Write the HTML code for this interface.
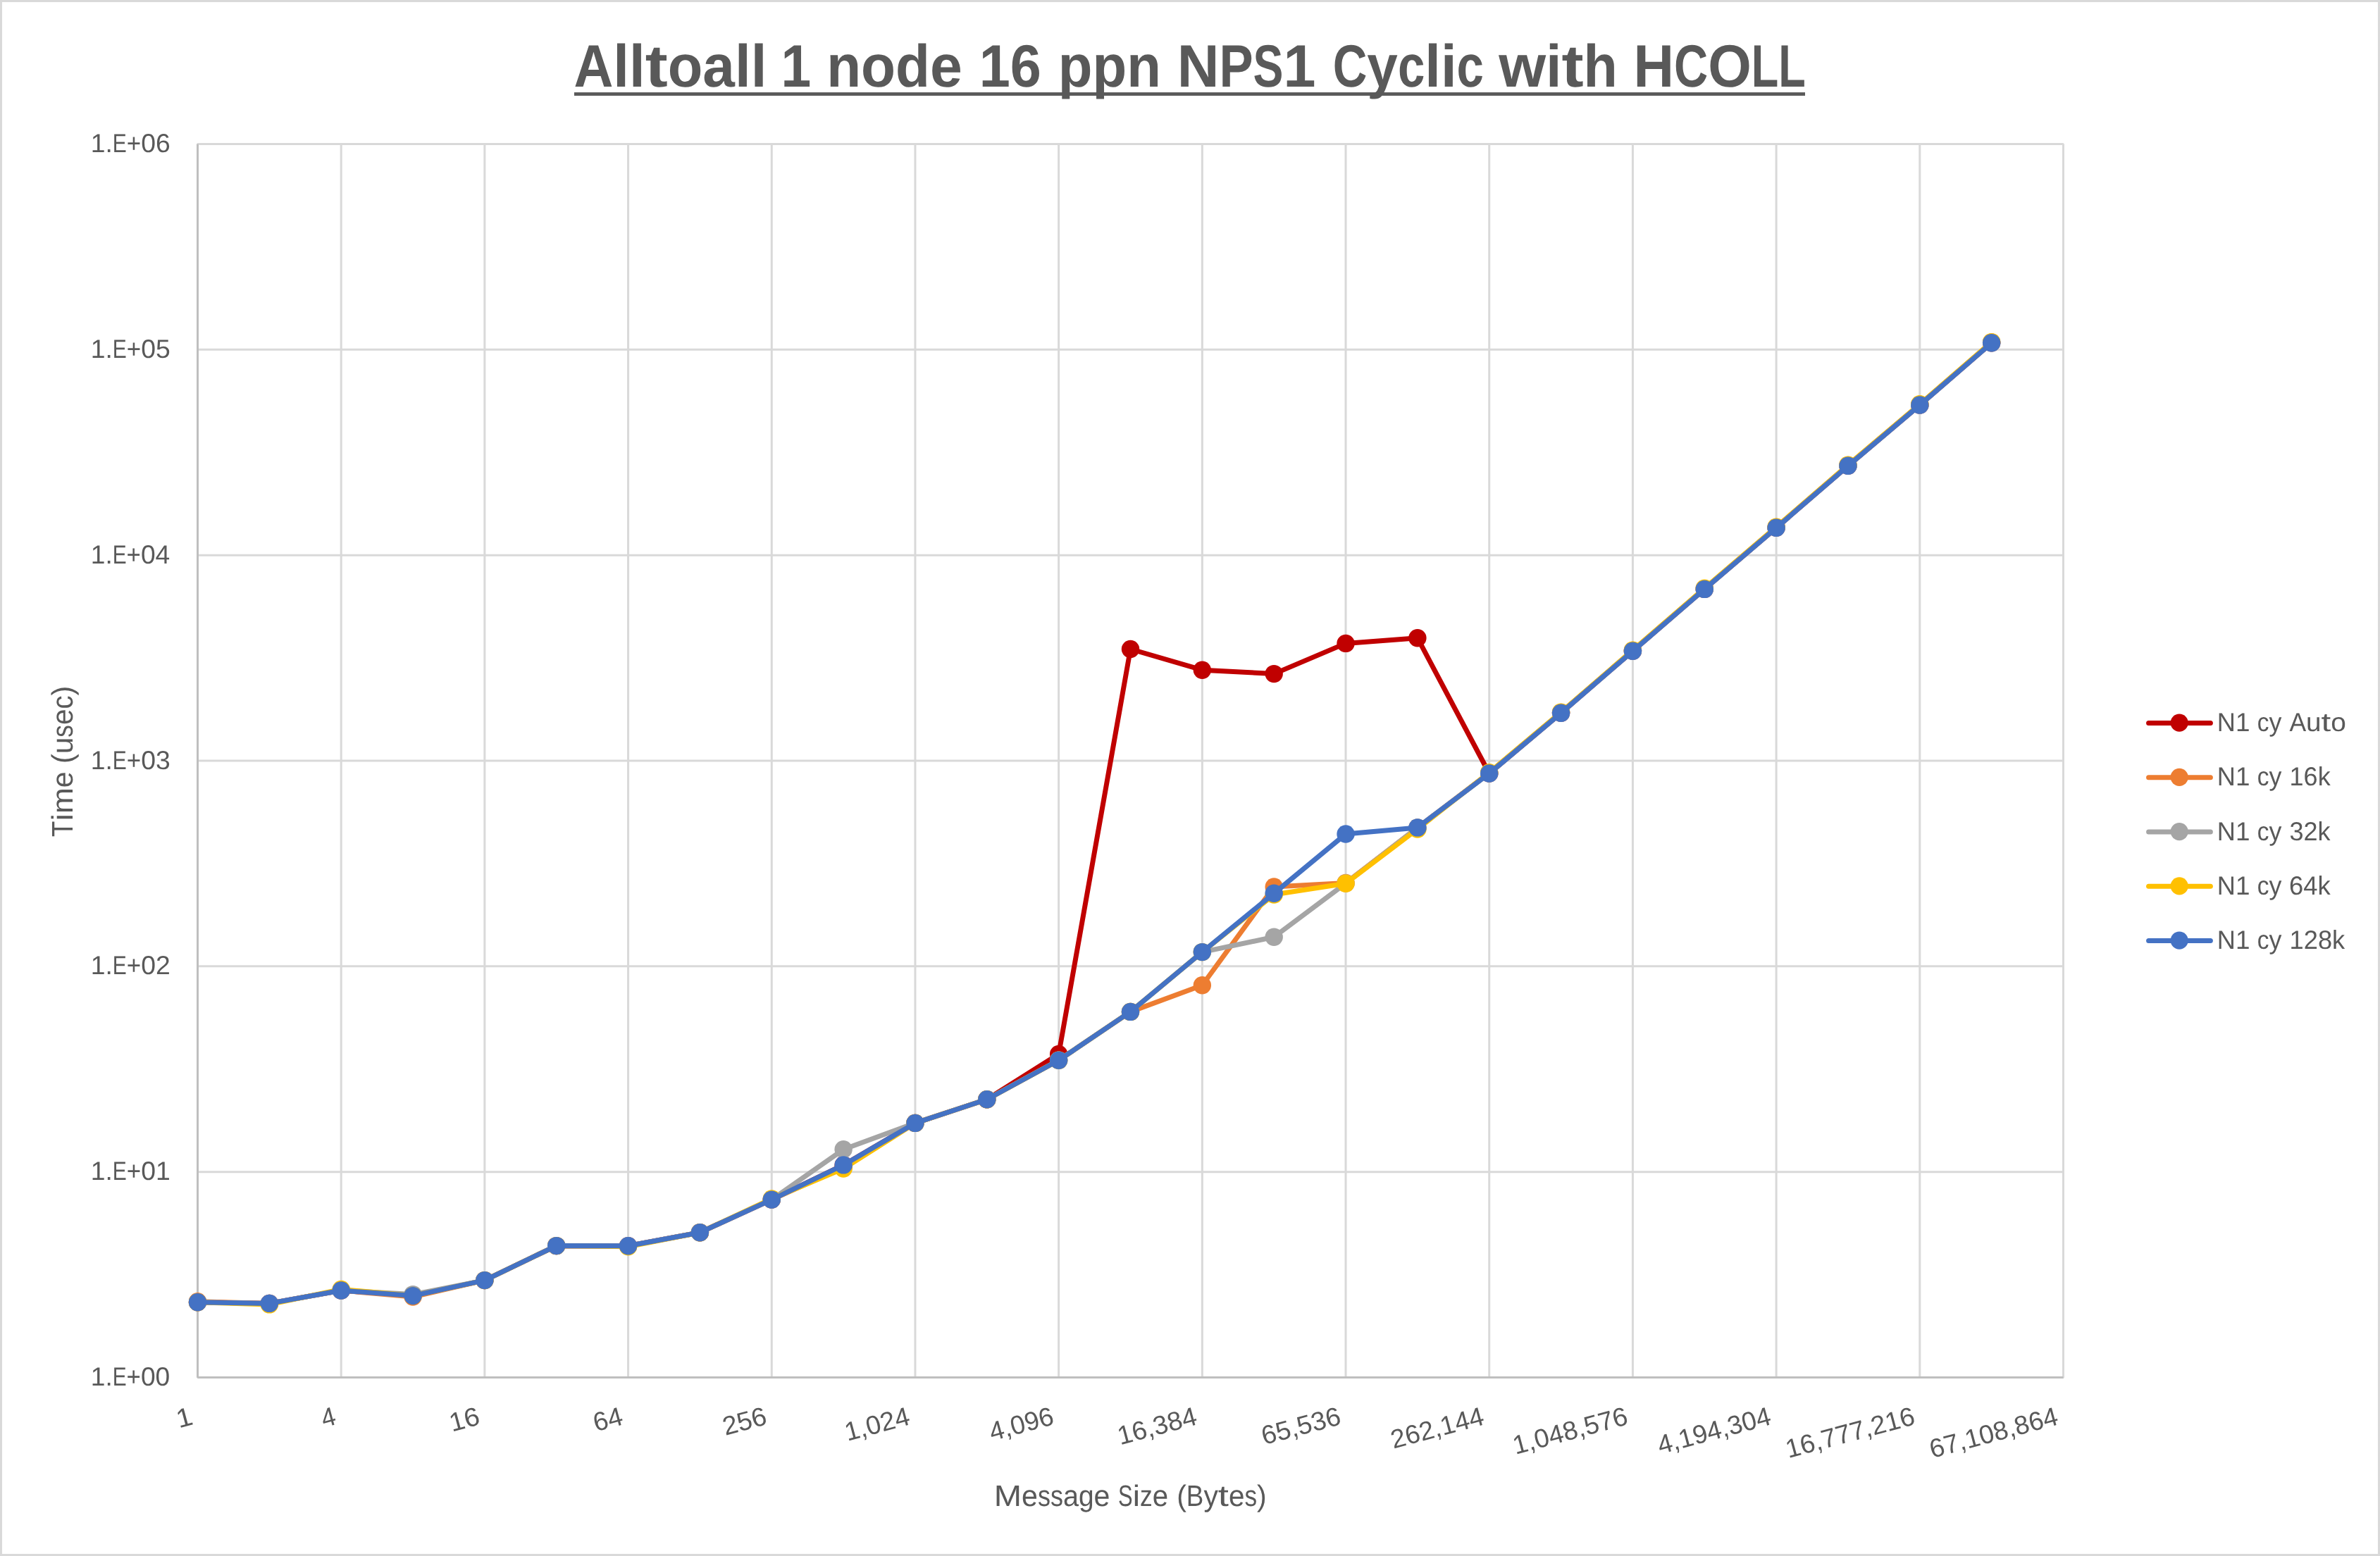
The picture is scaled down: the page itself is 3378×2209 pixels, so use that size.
<!DOCTYPE html>
<html><head><meta charset="utf-8"><title>Alltoall 1 node 16 ppn NPS1 Cyclic with HCOLL</title>
<style>html,body{margin:0;padding:0;background:#fff;}body{width:3378px;height:2209px;overflow:hidden;font-family:"Liberation Sans",sans-serif;}</style></head>
<body>
<svg width="3378" height="2209" viewBox="0 0 3378 2209" style="display:block">
<rect x="0" y="0" width="3378" height="2209" fill="#fff"/>
<rect x="1.5" y="1.5" width="3375" height="2206" fill="none" stroke="#D9D9D9" stroke-width="3"/>
<path d="M280.50 204.50H2928.50M280.50 496.33H2928.50M280.50 788.17H2928.50M280.50 1080.00H2928.50M280.50 1371.83H2928.50M280.50 1663.67H2928.50M484.19 204.50V1955.50M687.88 204.50V1955.50M891.58 204.50V1955.50M1095.27 204.50V1955.50M1298.96 204.50V1955.50M1502.65 204.50V1955.50M1706.35 204.50V1955.50M1910.04 204.50V1955.50M2113.73 204.50V1955.50M2317.42 204.50V1955.50M2521.12 204.50V1955.50M2724.81 204.50V1955.50M2928.50 204.50V1955.50" stroke="#D9D9D9" stroke-width="3" fill="none"/>
<path d="M280.50 204.50V1955.50M280.50 1955.50H2928.50" stroke="#BFBFBF" stroke-width="3" fill="none"/>
<path d="M280.50 204.50L279.00 204.50L280.50 203.00Z" fill="#C8C8C8"/><path d="M2928.50 204.50L2930.00 204.50L2928.50 203.00Z" fill="#D9D9D9"/><path d="M280.50 1955.50L279.00 1955.50L280.50 1957.00Z" fill="#BFBFBF"/><path d="M2928.50 1955.50L2930.00 1955.50L2928.50 1957.00Z" fill="#C8C8C8"/>
<rect x="280.50" y="203.00" width="1.5" height="1.5" fill="#D9D9D9"/><rect x="279.00" y="204.50" width="1.5" height="1.5" fill="#BFBFBF"/>
<rect x="2927.00" y="203.00" width="1.5" height="1.5" fill="#D9D9D9"/><rect x="2928.50" y="204.50" width="1.5" height="1.5" fill="#D9D9D9"/>
<rect x="279.00" y="1954.00" width="1.5" height="1.5" fill="#BFBFBF"/><rect x="280.50" y="1955.50" width="1.5" height="1.5" fill="#BFBFBF"/>
<rect x="2928.50" y="1954.00" width="1.5" height="1.5" fill="#D9D9D9"/><rect x="2927.00" y="1955.50" width="1.5" height="1.5" fill="#BFBFBF"/>
<polyline points="280.50,1848.70 382.35,1850.40 484.19,1832.00 586.04,1839.60 687.88,1817.60 789.73,1768.60 891.58,1768.70 993.42,1749.70 1095.27,1703.10 1197.12,1653.90 1298.96,1594.40 1400.81,1560.70 1502.65,1496.50 1604.50,921.50 1706.35,951.20 1808.19,956.60 1910.04,913.40 2011.88,905.70 2113.73,1098.00 2215.58,1012.30 2317.42,924.30 2419.27,836.40 2521.12,749.30 2622.96,661.30 2724.81,575.00 2826.65,486.80" fill="none" stroke="#C00000" stroke-width="7" stroke-linejoin="round" stroke-linecap="round"/>
<g fill="#C00000"><circle cx="280.50" cy="1848.70" r="12.7"/><circle cx="382.35" cy="1850.40" r="12.7"/><circle cx="484.19" cy="1832.00" r="12.7"/><circle cx="586.04" cy="1839.60" r="12.7"/><circle cx="687.88" cy="1817.60" r="12.7"/><circle cx="789.73" cy="1768.60" r="12.7"/><circle cx="891.58" cy="1768.70" r="12.7"/><circle cx="993.42" cy="1749.70" r="12.7"/><circle cx="1095.27" cy="1703.10" r="12.7"/><circle cx="1197.12" cy="1653.90" r="12.7"/><circle cx="1298.96" cy="1594.40" r="12.7"/><circle cx="1400.81" cy="1560.70" r="12.7"/><circle cx="1502.65" cy="1496.50" r="12.7"/><circle cx="1604.50" cy="921.50" r="12.7"/><circle cx="1706.35" cy="951.20" r="12.7"/><circle cx="1808.19" cy="956.60" r="12.7"/><circle cx="1910.04" cy="913.40" r="12.7"/><circle cx="2011.88" cy="905.70" r="12.7"/><circle cx="2113.73" cy="1098.00" r="12.7"/><circle cx="2215.58" cy="1012.30" r="12.7"/><circle cx="2317.42" cy="924.30" r="12.7"/><circle cx="2419.27" cy="836.40" r="12.7"/><circle cx="2521.12" cy="749.30" r="12.7"/><circle cx="2622.96" cy="661.30" r="12.7"/><circle cx="2724.81" cy="575.00" r="12.7"/><circle cx="2826.65" cy="486.80" r="12.7"/></g>
<polyline points="280.50,1847.70 382.35,1850.40 484.19,1832.00 586.04,1841.10 687.88,1817.60 789.73,1768.60 891.58,1768.70 993.42,1749.70 1095.27,1703.10 1197.12,1656.90 1298.96,1594.40 1400.81,1560.70 1502.65,1505.20 1604.50,1436.40 1706.35,1398.80 1808.19,1259.00 1910.04,1253.50 2011.88,1174.90 2113.73,1097.20 2215.58,1011.50 2317.42,923.50 2419.27,835.60 2521.12,748.50 2622.96,660.50 2724.81,574.20 2826.65,486.00" fill="none" stroke="#ED7D31" stroke-width="7" stroke-linejoin="round" stroke-linecap="round"/>
<g fill="#ED7D31"><circle cx="280.50" cy="1847.70" r="12.7"/><circle cx="382.35" cy="1850.40" r="12.7"/><circle cx="484.19" cy="1832.00" r="12.7"/><circle cx="586.04" cy="1841.10" r="12.7"/><circle cx="687.88" cy="1817.60" r="12.7"/><circle cx="789.73" cy="1768.60" r="12.7"/><circle cx="891.58" cy="1768.70" r="12.7"/><circle cx="993.42" cy="1749.70" r="12.7"/><circle cx="1095.27" cy="1703.10" r="12.7"/><circle cx="1197.12" cy="1656.90" r="12.7"/><circle cx="1298.96" cy="1594.40" r="12.7"/><circle cx="1400.81" cy="1560.70" r="12.7"/><circle cx="1502.65" cy="1505.20" r="12.7"/><circle cx="1604.50" cy="1436.40" r="12.7"/><circle cx="1706.35" cy="1398.80" r="12.7"/><circle cx="1808.19" cy="1259.00" r="12.7"/><circle cx="1910.04" cy="1253.50" r="12.7"/><circle cx="2011.88" cy="1174.90" r="12.7"/><circle cx="2113.73" cy="1097.20" r="12.7"/><circle cx="2215.58" cy="1011.50" r="12.7"/><circle cx="2317.42" cy="923.50" r="12.7"/><circle cx="2419.27" cy="835.60" r="12.7"/><circle cx="2521.12" cy="748.50" r="12.7"/><circle cx="2622.96" cy="660.50" r="12.7"/><circle cx="2724.81" cy="574.20" r="12.7"/><circle cx="2826.65" cy="486.00" r="12.7"/></g>
<polyline points="280.50,1848.70 382.35,1850.40 484.19,1832.00 586.04,1837.60 687.88,1817.60 789.73,1768.60 891.58,1768.70 993.42,1749.70 1095.27,1703.10 1197.12,1631.80 1298.96,1594.40 1400.81,1560.70 1502.65,1505.20 1604.50,1436.40 1706.35,1351.60 1808.19,1330.30 1910.04,1254.00 2011.88,1174.90 2113.73,1098.00 2215.58,1012.30 2317.42,924.30 2419.27,836.40 2521.12,749.30 2622.96,661.30 2724.81,575.00 2826.65,486.80" fill="none" stroke="#A5A5A5" stroke-width="7" stroke-linejoin="round" stroke-linecap="round"/>
<g fill="#A5A5A5"><circle cx="280.50" cy="1848.70" r="12.7"/><circle cx="382.35" cy="1850.40" r="12.7"/><circle cx="484.19" cy="1832.00" r="12.7"/><circle cx="586.04" cy="1837.60" r="12.7"/><circle cx="687.88" cy="1817.60" r="12.7"/><circle cx="789.73" cy="1768.60" r="12.7"/><circle cx="891.58" cy="1768.70" r="12.7"/><circle cx="993.42" cy="1749.70" r="12.7"/><circle cx="1095.27" cy="1703.10" r="12.7"/><circle cx="1197.12" cy="1631.80" r="12.7"/><circle cx="1298.96" cy="1594.40" r="12.7"/><circle cx="1400.81" cy="1560.70" r="12.7"/><circle cx="1502.65" cy="1505.20" r="12.7"/><circle cx="1604.50" cy="1436.40" r="12.7"/><circle cx="1706.35" cy="1351.60" r="12.7"/><circle cx="1808.19" cy="1330.30" r="12.7"/><circle cx="1910.04" cy="1254.00" r="12.7"/><circle cx="2011.88" cy="1174.90" r="12.7"/><circle cx="2113.73" cy="1098.00" r="12.7"/><circle cx="2215.58" cy="1012.30" r="12.7"/><circle cx="2317.42" cy="924.30" r="12.7"/><circle cx="2419.27" cy="836.40" r="12.7"/><circle cx="2521.12" cy="749.30" r="12.7"/><circle cx="2622.96" cy="661.30" r="12.7"/><circle cx="2724.81" cy="575.00" r="12.7"/><circle cx="2826.65" cy="486.80" r="12.7"/></g>
<polyline points="280.50,1848.70 382.35,1851.90 484.19,1830.50 586.04,1839.60 687.88,1817.60 789.73,1768.60 891.58,1769.70 993.42,1749.70 1095.27,1701.90 1197.12,1659.00 1298.96,1594.40 1400.81,1560.70 1502.65,1505.20 1604.50,1436.40 1706.35,1351.60 1808.19,1270.00 1910.04,1254.20 2011.88,1177.00 2113.73,1096.80 2215.58,1011.10 2317.42,923.10 2419.27,835.20 2521.12,748.10 2622.96,660.10 2724.81,573.80 2826.65,485.60" fill="none" stroke="#FFC000" stroke-width="7" stroke-linejoin="round" stroke-linecap="round"/>
<g fill="#FFC000"><circle cx="280.50" cy="1848.70" r="12.7"/><circle cx="382.35" cy="1851.90" r="12.7"/><circle cx="484.19" cy="1830.50" r="12.7"/><circle cx="586.04" cy="1839.60" r="12.7"/><circle cx="687.88" cy="1817.60" r="12.7"/><circle cx="789.73" cy="1768.60" r="12.7"/><circle cx="891.58" cy="1769.70" r="12.7"/><circle cx="993.42" cy="1749.70" r="12.7"/><circle cx="1095.27" cy="1701.90" r="12.7"/><circle cx="1197.12" cy="1659.00" r="12.7"/><circle cx="1298.96" cy="1594.40" r="12.7"/><circle cx="1400.81" cy="1560.70" r="12.7"/><circle cx="1502.65" cy="1505.20" r="12.7"/><circle cx="1604.50" cy="1436.40" r="12.7"/><circle cx="1706.35" cy="1351.60" r="12.7"/><circle cx="1808.19" cy="1270.00" r="12.7"/><circle cx="1910.04" cy="1254.20" r="12.7"/><circle cx="2011.88" cy="1177.00" r="12.7"/><circle cx="2113.73" cy="1096.80" r="12.7"/><circle cx="2215.58" cy="1011.10" r="12.7"/><circle cx="2317.42" cy="923.10" r="12.7"/><circle cx="2419.27" cy="835.20" r="12.7"/><circle cx="2521.12" cy="748.10" r="12.7"/><circle cx="2622.96" cy="660.10" r="12.7"/><circle cx="2724.81" cy="573.80" r="12.7"/><circle cx="2826.65" cy="485.60" r="12.7"/></g>
<polyline points="280.50,1848.70 382.35,1850.40 484.19,1832.00 586.04,1839.60 687.88,1817.60 789.73,1768.60 891.58,1768.70 993.42,1749.70 1095.27,1703.10 1197.12,1653.90 1298.96,1594.40 1400.81,1560.70 1502.65,1505.20 1604.50,1436.40 1706.35,1351.60 1808.19,1268.20 1910.04,1184.00 2011.88,1174.90 2113.73,1098.00 2215.58,1012.30 2317.42,924.30 2419.27,836.40 2521.12,749.30 2622.96,661.30 2724.81,575.00 2826.65,486.80" fill="none" stroke="#4472C4" stroke-width="7" stroke-linejoin="round" stroke-linecap="round"/>
<g fill="#4472C4"><circle cx="280.50" cy="1848.70" r="12.7"/><circle cx="382.35" cy="1850.40" r="12.7"/><circle cx="484.19" cy="1832.00" r="12.7"/><circle cx="586.04" cy="1839.60" r="12.7"/><circle cx="687.88" cy="1817.60" r="12.7"/><circle cx="789.73" cy="1768.60" r="12.7"/><circle cx="891.58" cy="1768.70" r="12.7"/><circle cx="993.42" cy="1749.70" r="12.7"/><circle cx="1095.27" cy="1703.10" r="12.7"/><circle cx="1197.12" cy="1653.90" r="12.7"/><circle cx="1298.96" cy="1594.40" r="12.7"/><circle cx="1400.81" cy="1560.70" r="12.7"/><circle cx="1502.65" cy="1505.20" r="12.7"/><circle cx="1604.50" cy="1436.40" r="12.7"/><circle cx="1706.35" cy="1351.60" r="12.7"/><circle cx="1808.19" cy="1268.20" r="12.7"/><circle cx="1910.04" cy="1184.00" r="12.7"/><circle cx="2011.88" cy="1174.90" r="12.7"/><circle cx="2113.73" cy="1098.00" r="12.7"/><circle cx="2215.58" cy="1012.30" r="12.7"/><circle cx="2317.42" cy="924.30" r="12.7"/><circle cx="2419.27" cy="836.40" r="12.7"/><circle cx="2521.12" cy="749.30" r="12.7"/><circle cx="2622.96" cy="661.30" r="12.7"/><circle cx="2724.81" cy="575.00" r="12.7"/><circle cx="2826.65" cy="486.80" r="12.7"/></g>
<path d="M3049.6 1026.40H3137.4" stroke="#C00000" stroke-width="7" stroke-linecap="round" fill="none"/><circle cx="3093.2" cy="1026.10" r="12.6" fill="#C00000"/>
<path d="M3049.6 1103.65H3137.4" stroke="#ED7D31" stroke-width="7" stroke-linecap="round" fill="none"/><circle cx="3093.2" cy="1103.35" r="12.6" fill="#ED7D31"/>
<path d="M3049.6 1180.90H3137.4" stroke="#A5A5A5" stroke-width="7" stroke-linecap="round" fill="none"/><circle cx="3093.2" cy="1180.60" r="12.6" fill="#A5A5A5"/>
<path d="M3049.6 1258.15H3137.4" stroke="#FFC000" stroke-width="7" stroke-linecap="round" fill="none"/><circle cx="3093.2" cy="1257.85" r="12.6" fill="#FFC000"/>
<path d="M3049.6 1335.40H3137.4" stroke="#4472C4" stroke-width="7" stroke-linecap="round" fill="none"/><circle cx="3093.2" cy="1335.10" r="12.6" fill="#4472C4"/>
<g fill="#595959" font-family="'Liberation Sans', sans-serif" text-rendering="geometricPrecision" opacity="0.999"><g transform="translate(3149.70,1038.00)" font-size="37.20" font-weight="normal"><text transform="translate(-2.83,0) scale(0.9723,1)">N</text><text transform="translate(23.29,0) scale(0.9909,1)">1</text></g>
<g transform="translate(3204.80,1038.00)" font-size="37.20" font-weight="normal"><text transform="translate(-1.05,0) scale(0.8994,1)">c</text><text transform="translate(15.68,0) scale(0.9632,1)">y</text></g>
<g transform="translate(3249.40,1038.00)" font-size="37.20" font-weight="normal"><text transform="translate(0.00,0) scale(0.9552,1)">A</text><text transform="translate(23.70,0) scale(1.0387,1)">u</text><text transform="translate(45.19,0) scale(1.3267,1)">t</text><text transform="translate(58.90,0) scale(1.0426,1)">o</text></g>
<g transform="translate(3149.70,1115.25)" font-size="37.20" font-weight="normal"><text transform="translate(-2.83,0) scale(0.9723,1)">N</text><text transform="translate(23.29,0) scale(0.9909,1)">1</text></g>
<g transform="translate(3204.80,1115.25)" font-size="37.20" font-weight="normal"><text transform="translate(-1.05,0) scale(0.8994,1)">c</text><text transform="translate(15.68,0) scale(0.9632,1)">y</text></g>
<g transform="translate(3251.80,1115.25)" font-size="37.20" font-weight="normal"><text transform="translate(-2.25,0) scale(0.9691,1)">1</text><text transform="translate(17.80,0) scale(0.9691,1)">6</text><text transform="translate(37.84,0) scale(0.9674,1)">k</text></g>
<g transform="translate(3149.70,1192.50)" font-size="37.20" font-weight="normal"><text transform="translate(-2.83,0) scale(0.9723,1)">N</text><text transform="translate(23.29,0) scale(0.9909,1)">1</text></g>
<g transform="translate(3204.80,1192.50)" font-size="37.20" font-weight="normal"><text transform="translate(-1.05,0) scale(0.8994,1)">c</text><text transform="translate(15.68,0) scale(0.9632,1)">y</text></g>
<g transform="translate(3250.60,1192.50)" font-size="37.20" font-weight="normal"><text transform="translate(-1.13,0) scale(0.9703,1)">3</text><text transform="translate(18.95,0) scale(0.9703,1)">2</text><text transform="translate(39.02,0) scale(0.9686,1)">k</text></g>
<g transform="translate(3149.70,1269.75)" font-size="37.20" font-weight="normal"><text transform="translate(-2.83,0) scale(0.9723,1)">N</text><text transform="translate(23.29,0) scale(0.9909,1)">1</text></g>
<g transform="translate(3204.80,1269.75)" font-size="37.20" font-weight="normal"><text transform="translate(-1.05,0) scale(0.8994,1)">c</text><text transform="translate(15.68,0) scale(0.9632,1)">y</text></g>
<g transform="translate(3250.60,1269.75)" font-size="37.20" font-weight="normal"><text transform="translate(-1.71,0) scale(0.9799,1)">6</text><text transform="translate(18.56,0) scale(0.9799,1)">4</text><text transform="translate(38.84,0) scale(0.9782,1)">k</text></g>
<g transform="translate(3149.70,1347.00)" font-size="37.20" font-weight="normal"><text transform="translate(-2.83,0) scale(0.9723,1)">N</text><text transform="translate(23.29,0) scale(0.9909,1)">1</text></g>
<g transform="translate(3204.80,1347.00)" font-size="37.20" font-weight="normal"><text transform="translate(-1.05,0) scale(0.8994,1)">c</text><text transform="translate(15.68,0) scale(0.9632,1)">y</text></g>
<g transform="translate(3251.80,1347.00)" font-size="37.20" font-weight="normal"><text transform="translate(-2.27,0) scale(0.9761,1)">1</text><text transform="translate(17.92,0) scale(0.9761,1)">2</text><text transform="translate(38.12,0) scale(0.9761,1)">8</text><text transform="translate(58.31,0) scale(0.9743,1)">k</text></g>
<g transform="translate(131.10,216.05)" font-size="37.20" font-weight="normal"><text transform="translate(-2.33,0) scale(1.0041,1)">1</text><text transform="translate(18.44,0) scale(0.9991,1)">.</text><text transform="translate(28.77,0) scale(0.8059,1)">E</text><text transform="translate(48.76,0) scale(0.9393,1)">+</text><text transform="translate(69.17,0) scale(1.0041,1)">0</text><text transform="translate(89.94,0) scale(1.0041,1)">6</text></g>
<g transform="translate(131.10,507.88)" font-size="37.20" font-weight="normal"><text transform="translate(-2.33,0) scale(1.0041,1)">1</text><text transform="translate(18.44,0) scale(0.9991,1)">.</text><text transform="translate(28.77,0) scale(0.8059,1)">E</text><text transform="translate(48.76,0) scale(0.9393,1)">+</text><text transform="translate(69.17,0) scale(1.0041,1)">0</text><text transform="translate(89.94,0) scale(1.0041,1)">5</text></g>
<g transform="translate(131.10,799.72)" font-size="37.20" font-weight="normal"><text transform="translate(-2.32,0) scale(0.9988,1)">1</text><text transform="translate(18.34,0) scale(0.9937,1)">.</text><text transform="translate(28.61,0) scale(0.8016,1)">E</text><text transform="translate(48.50,0) scale(0.9343,1)">+</text><text transform="translate(68.80,0) scale(0.9988,1)">0</text><text transform="translate(89.46,0) scale(0.9988,1)">4</text></g>
<g transform="translate(131.10,1091.55)" font-size="37.20" font-weight="normal"><text transform="translate(-2.33,0) scale(1.0041,1)">1</text><text transform="translate(18.44,0) scale(0.9991,1)">.</text><text transform="translate(28.77,0) scale(0.8059,1)">E</text><text transform="translate(48.76,0) scale(0.9393,1)">+</text><text transform="translate(69.17,0) scale(1.0041,1)">0</text><text transform="translate(89.94,0) scale(1.0041,1)">3</text></g>
<g transform="translate(131.10,1383.38)" font-size="37.20" font-weight="normal"><text transform="translate(-2.33,0) scale(1.0041,1)">1</text><text transform="translate(18.44,0) scale(0.9991,1)">.</text><text transform="translate(28.77,0) scale(0.8059,1)">E</text><text transform="translate(48.76,0) scale(0.9393,1)">+</text><text transform="translate(69.17,0) scale(1.0041,1)">0</text><text transform="translate(89.94,0) scale(1.0041,1)">2</text></g>
<g transform="translate(131.10,1675.22)" font-size="37.20" font-weight="normal"><text transform="translate(-2.33,0) scale(1.0041,1)">1</text><text transform="translate(18.44,0) scale(0.9991,1)">.</text><text transform="translate(28.77,0) scale(0.8059,1)">E</text><text transform="translate(48.76,0) scale(0.9393,1)">+</text><text transform="translate(69.17,0) scale(1.0041,1)">0</text><text transform="translate(89.94,0) scale(1.0041,1)">1</text></g>
<g transform="translate(131.10,1967.05)" font-size="37.20" font-weight="normal"><text transform="translate(-2.32,0) scale(0.9988,1)">1</text><text transform="translate(18.34,0) scale(0.9937,1)">.</text><text transform="translate(28.61,0) scale(0.8016,1)">E</text><text transform="translate(48.50,0) scale(0.9343,1)">+</text><text transform="translate(68.80,0) scale(0.9988,1)">0</text><text transform="translate(89.46,0) scale(0.9988,1)">0</text></g>
<g transform="translate(274.20,2022.00) rotate(-15)" font-size="37.20" font-weight="normal"><text transform="translate(-20.80,0) scale(1.0845,1)">1</text></g>
<g transform="translate(477.89,2022.00) rotate(-15)" font-size="37.20" font-weight="normal"><text transform="translate(-18.83,0) scale(0.9530,1)">4</text></g>
<g transform="translate(681.58,2022.00) rotate(-15)" font-size="37.20" font-weight="normal"><text transform="translate(-41.48,0) scale(1.0403,1)">1</text><text transform="translate(-19.96,0) scale(1.0403,1)">6</text></g>
<g transform="translate(885.28,2022.00) rotate(-15)" font-size="37.20" font-weight="normal"><text transform="translate(-40.82,0) scale(1.0091,1)">6</text><text transform="translate(-19.94,0) scale(1.0091,1)">4</text></g>
<g transform="translate(1088.97,2022.00) rotate(-15)" font-size="37.20" font-weight="normal"><text transform="translate(-61.61,0) scale(1.0174,1)">2</text><text transform="translate(-40.56,0) scale(1.0174,1)">5</text><text transform="translate(-19.52,0) scale(1.0174,1)">6</text></g>
<g transform="translate(1292.66,2022.00) rotate(-15)" font-size="37.20" font-weight="normal"><text transform="translate(-93.20,0) scale(1.0128,1)">1</text><text transform="translate(-72.25,0) scale(0.9997,1)">,</text><text transform="translate(-61.92,0) scale(1.0128,1)">0</text><text transform="translate(-40.97,0) scale(1.0128,1)">2</text><text transform="translate(-20.01,0) scale(1.0128,1)">4</text></g>
<g transform="translate(1496.35,2022.00) rotate(-15)" font-size="37.20" font-weight="normal"><text transform="translate(-91.43,0) scale(0.9998,1)">4</text><text transform="translate(-70.75,0) scale(0.9869,1)">,</text><text transform="translate(-60.55,0) scale(0.9998,1)">0</text><text transform="translate(-39.86,0) scale(0.9998,1)">9</text><text transform="translate(-19.18,0) scale(0.9998,1)">6</text></g>
<g transform="translate(1700.05,2022.00) rotate(-15)" font-size="37.20" font-weight="normal"><text transform="translate(-113.98,0) scale(1.0112,1)">1</text><text transform="translate(-93.06,0) scale(1.0112,1)">6</text><text transform="translate(-72.14,0) scale(0.9981,1)">,</text><text transform="translate(-61.82,0) scale(1.0112,1)">3</text><text transform="translate(-40.90,0) scale(1.0112,1)">8</text><text transform="translate(-19.98,0) scale(1.0112,1)">4</text></g>
<g transform="translate(1903.74,2022.00) rotate(-15)" font-size="37.20" font-weight="normal"><text transform="translate(-113.39,0) scale(1.0112,1)">6</text><text transform="translate(-92.47,0) scale(1.0112,1)">5</text><text transform="translate(-71.55,0) scale(0.9981,1)">,</text><text transform="translate(-61.24,0) scale(1.0112,1)">5</text><text transform="translate(-40.32,0) scale(1.0112,1)">3</text><text transform="translate(-19.40,0) scale(1.0112,1)">6</text></g>
<g transform="translate(2107.43,2022.00) rotate(-15)" font-size="37.20" font-weight="normal"><text transform="translate(-134.16,0) scale(1.0057,1)">2</text><text transform="translate(-113.36,0) scale(1.0057,1)">6</text><text transform="translate(-92.55,0) scale(1.0057,1)">2</text><text transform="translate(-71.75,0) scale(0.9926,1)">,</text><text transform="translate(-61.49,0) scale(1.0057,1)">1</text><text transform="translate(-40.68,0) scale(1.0057,1)">4</text><text transform="translate(-19.87,0) scale(1.0057,1)">4</text></g>
<g transform="translate(2311.12,2022.00) rotate(-15)" font-size="37.20" font-weight="normal"><text transform="translate(-165.77,0) scale(1.0126,1)">1</text><text transform="translate(-144.83,0) scale(0.9995,1)">,</text><text transform="translate(-134.50,0) scale(1.0126,1)">0</text><text transform="translate(-113.55,0) scale(1.0126,1)">4</text><text transform="translate(-92.60,0) scale(1.0126,1)">8</text><text transform="translate(-71.65,0) scale(0.9995,1)">,</text><text transform="translate(-61.32,0) scale(1.0126,1)">5</text><text transform="translate(-40.37,0) scale(1.0126,1)">7</text><text transform="translate(-19.42,0) scale(1.0126,1)">6</text></g>
<g transform="translate(2514.82,2022.00) rotate(-15)" font-size="37.20" font-weight="normal"><text transform="translate(-164.00,0) scale(0.9982,1)">4</text><text transform="translate(-143.35,0) scale(0.9853,1)">,</text><text transform="translate(-133.17,0) scale(0.9982,1)">1</text><text transform="translate(-112.51,0) scale(0.9982,1)">9</text><text transform="translate(-91.86,0) scale(0.9982,1)">4</text><text transform="translate(-71.21,0) scale(0.9853,1)">,</text><text transform="translate(-61.03,0) scale(0.9982,1)">3</text><text transform="translate(-40.38,0) scale(0.9982,1)">0</text><text transform="translate(-19.73,0) scale(0.9982,1)">4</text></g>
<g transform="translate(2718.51,2022.00) rotate(-15)" font-size="37.20" font-weight="normal"><text transform="translate(-186.55,0) scale(1.0116,1)">1</text><text transform="translate(-165.62,0) scale(1.0116,1)">6</text><text transform="translate(-144.69,0) scale(0.9985,1)">,</text><text transform="translate(-134.37,0) scale(1.0116,1)">7</text><text transform="translate(-113.44,0) scale(1.0116,1)">7</text><text transform="translate(-92.51,0) scale(1.0116,1)">7</text><text transform="translate(-71.58,0) scale(0.9985,1)">,</text><text transform="translate(-61.26,0) scale(1.0116,1)">2</text><text transform="translate(-40.33,0) scale(1.0116,1)">1</text><text transform="translate(-19.40,0) scale(1.0116,1)">6</text></g>
<g transform="translate(2922.20,2022.00) rotate(-15)" font-size="37.20" font-weight="normal"><text transform="translate(-185.95,0) scale(1.0052,1)">6</text><text transform="translate(-165.16,0) scale(1.0052,1)">7</text><text transform="translate(-144.36,0) scale(0.9922,1)">,</text><text transform="translate(-134.10,0) scale(1.0052,1)">1</text><text transform="translate(-113.31,0) scale(1.0052,1)">0</text><text transform="translate(-92.51,0) scale(1.0052,1)">8</text><text transform="translate(-71.71,0) scale(0.9922,1)">,</text><text transform="translate(-61.46,0) scale(1.0052,1)">8</text><text transform="translate(-40.66,0) scale(1.0052,1)">6</text><text transform="translate(-19.87,0) scale(1.0052,1)">4</text></g>
<g transform="translate(1414.40,2138.20)" font-size="42.15" font-weight="normal"><text transform="translate(-3.69,0) scale(1.1197,1)">M</text><text transform="translate(35.63,0) scale(0.9768,1)">e</text><text transform="translate(58.53,0) scale(0.8531,1)">s</text><text transform="translate(76.51,0) scale(0.8531,1)">s</text><text transform="translate(94.49,0) scale(0.9396,1)">a</text><text transform="translate(116.51,0) scale(0.9239,1)">g</text><text transform="translate(138.17,0) scale(0.9768,1)">e</text></g>
<g transform="translate(1588.00,2138.20)" font-size="42.15" font-weight="normal"><text transform="translate(-0.97,0) scale(0.7331,1)">S</text><text transform="translate(19.65,0) scale(1.0981,1)">i</text><text transform="translate(29.93,0) scale(0.8416,1)">z</text><text transform="translate(47.67,0) scale(0.9539,1)">e</text></g>
<g transform="translate(1672.10,2138.20)" font-size="42.15" font-weight="normal"><text transform="translate(-1.92,0) scale(0.9739,1)">(</text><text transform="translate(11.75,0) scale(0.8730,1)">B</text><text transform="translate(36.29,0) scale(0.9698,1)">y</text><text transform="translate(56.73,0) scale(1.2906,1)">t</text><text transform="translate(71.84,0) scale(0.9585,1)">e</text><text transform="translate(94.31,0) scale(0.8370,1)">s</text><text transform="translate(111.95,0) scale(0.9739,1)">)</text></g>
<g transform="translate(102.70,1187.40) rotate(-90)" font-size="42.15" font-weight="normal"><text transform="translate(-0.57,0) scale(0.8715,1)">T</text><text transform="translate(21.86,0) scale(1.1267,1)">i</text><text transform="translate(32.41,0) scale(1.0484,1)">m</text><text transform="translate(69.23,0) scale(0.9788,1)">e</text></g>
<g transform="translate(102.70,1082.10) rotate(-90)" font-size="42.15" font-weight="normal"><text transform="translate(-1.92,0) scale(0.9742,1)">(</text><text transform="translate(11.75,0) scale(1.0107,1)">u</text><text transform="translate(35.44,0) scale(0.8372,1)">s</text><text transform="translate(53.09,0) scale(0.9587,1)">e</text><text transform="translate(75.56,0) scale(0.9058,1)">c</text><text transform="translate(94.65,0) scale(0.9742,1)">)</text></g>
<g transform="translate(815.60,122.60)" font-size="84.88" font-weight="bold"><text transform="translate(-1.21,0) scale(0.9121,1)">A</text><text transform="translate(54.70,0) scale(0.9624,1)">l</text><text transform="translate(77.40,0) scale(0.9624,1)">l</text><text transform="translate(100.10,0) scale(1.1326,1)">t</text><text transform="translate(132.11,0) scale(0.9573,1)">o</text><text transform="translate(181.75,0) scale(0.9655,1)">a</text><text transform="translate(227.33,0) scale(0.9624,1)">l</text><text transform="translate(250.03,0) scale(0.9624,1)">l</text></g>
<g transform="translate(1113.20,122.60)" font-size="84.88" font-weight="bold"><text transform="translate(-4.80,0) scale(0.9048,1)">1</text></g>
<g transform="translate(1178.20,122.60)" font-size="84.88" font-weight="bold"><text transform="translate(-5.00,0) scale(0.9434,1)">n</text><text transform="translate(43.91,0) scale(0.9452,1)">o</text><text transform="translate(92.92,0) scale(0.9434,1)">d</text><text transform="translate(141.83,0) scale(0.9706,1)">e</text></g>
<g transform="translate(1394.70,122.60)" font-size="84.88" font-weight="bold"><text transform="translate(-4.95,0) scale(0.9334,1)">1</text><text transform="translate(39.11,0) scale(0.9334,1)">6</text></g>
<g transform="translate(1506.80,122.60)" font-size="84.88" font-weight="bold"><text transform="translate(-4.98,0) scale(0.9395,1)">p</text><text transform="translate(43.73,0) scale(0.9395,1)">p</text><text transform="translate(92.44,0) scale(0.9395,1)">n</text></g>
<g transform="translate(1675.80,122.60)" font-size="84.88" font-weight="bold"><text transform="translate(-5.17,0) scale(0.9747,1)">N</text><text transform="translate(54.58,0) scale(0.8519,1)">P</text><text transform="translate(102.81,0) scale(0.7574,1)">S</text><text transform="translate(145.69,0) scale(0.9737,1)">1</text></g>
<g transform="translate(1893.80,122.60)" font-size="84.88" font-weight="bold"><text transform="translate(-2.10,0) scale(0.7935,1)">C</text><text transform="translate(46.53,0) scale(0.9232,1)">y</text><text transform="translate(90.12,0) scale(0.8141,1)">c</text><text transform="translate(128.55,0) scale(0.9591,1)">l</text><text transform="translate(151.17,0) scale(0.9591,1)">i</text><text transform="translate(173.79,0) scale(0.8141,1)">c</text></g>
<g transform="translate(2126.00,122.60)" font-size="84.88" font-weight="bold"><text transform="translate(1.34,0) scale(1.0139,1)">w</text><text transform="translate(68.28,0) scale(0.9373,1)">i</text><text transform="translate(90.39,0) scale(1.1030,1)">t</text><text transform="translate(121.57,0) scale(0.9306,1)">h</text></g>
<g transform="translate(2323.50,122.60)" font-size="84.88" font-weight="bold"><text transform="translate(-4.97,0) scale(0.9374,1)">H</text><text transform="translate(52.49,0) scale(0.7859,1)">C</text><text transform="translate(100.67,0) scale(0.9324,1)">O</text><text transform="translate(162.23,0) scale(0.7430,1)">L</text><text transform="translate(200.75,0) scale(0.7430,1)">L</text></g>
<rect x="815" y="131.1" width="1747" height="4.8" fill="#595959"/></g>
</svg>
</body></html>
